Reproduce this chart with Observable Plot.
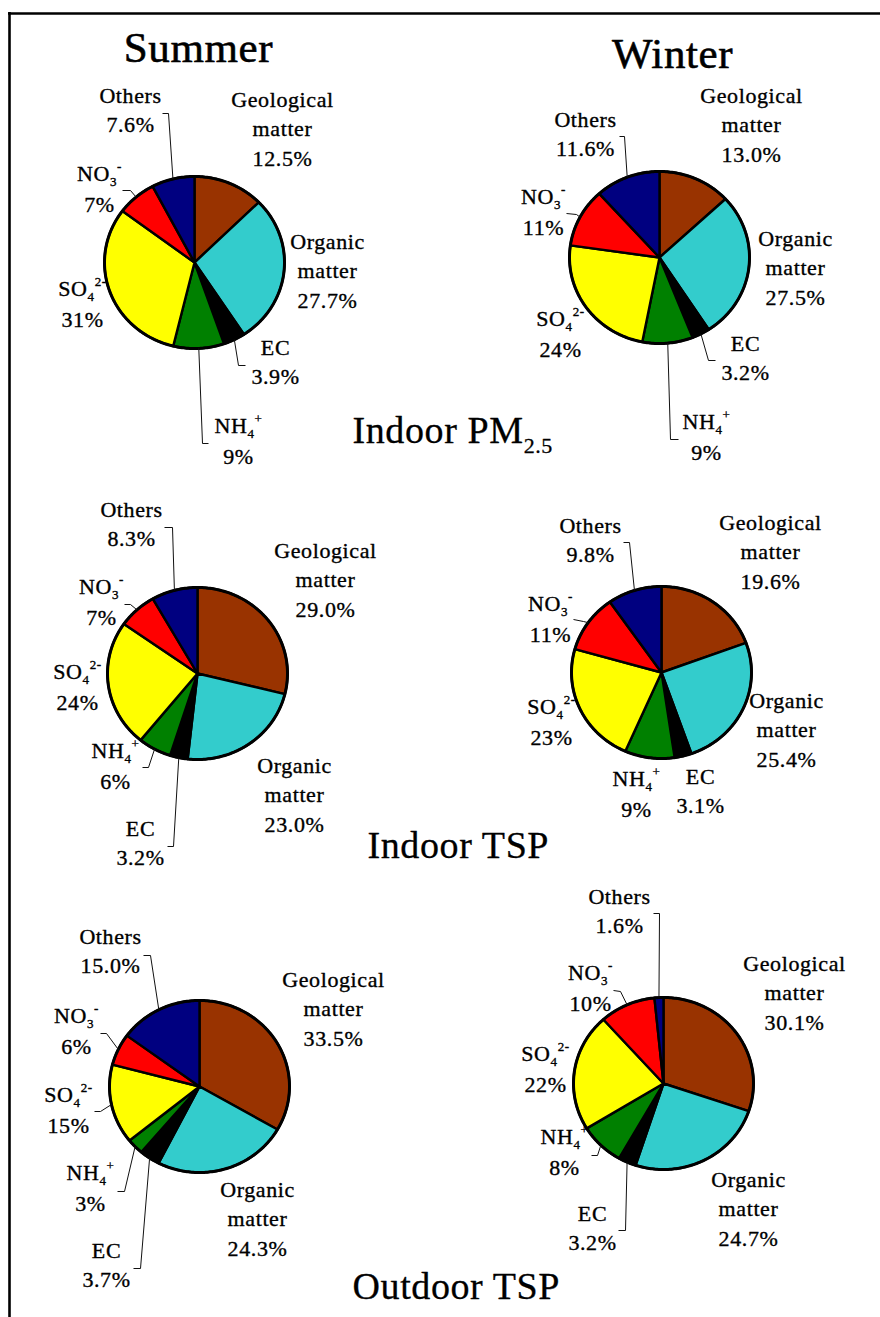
<!DOCTYPE html>
<html><head><meta charset="utf-8">
<script src="https://cdn.jsdelivr.net/npm/d3@7"></script>
<script src="https://cdn.jsdelivr.net/npm/@observablehq/plot@0.6"></script>
<style>
html,body{margin:0;padding:0;background:#fff;}
#chart svg{display:block;}
#chart text{font-family:'Liberation Serif','Times New Roman',serif;}
</style></head><body><div id="chart"></div>
<script>
// ---------- data ----------
const categories = ["Geological matter", "Organic matter", "EC", "NH4+", "SO42-", "NO3-", "Others"];
const labelNames = ["Geological\nmatter", "Organic\nmatter", "EC", "NH_4^+", "SO_4^2-", "NO_3^-", "Others"];
const decimals = [1, 1, 1, 0, 0, 0, 1];
const seasons = ["Summer", "Winter"];
const panels = ["Indoor PM_2.5", "Indoor TSP", "Outdoor TSP"];

const summerIndoorPM25 = [12.5, 27.7, 3.9, 9, 31, 7, 7.6];
const winterIndoorPM25 = [13.0, 27.5, 3.2, 9, 24, 11, 11.6];
const summerIndoorTSP = [29.0, 23.0, 3.2, 6, 24, 7, 8.3];
const winterIndoorTSP = [19.6, 25.4, 3.1, 9, 23, 11, 9.8];
const summerOutdoorTSP = [33.5, 24.3, 3.7, 3, 15, 6, 15.0];
const winterOutdoorTSP = [30.1, 24.7, 3.2, 8, 22, 10, 1.6];

const colors = ["#993300", "#33CCCC", "#000000", "#008000", "#FFFF00", "#FF0000", "#000080"];

// ---------- layout (pixel positions of pies, labels, leader elbows) ----------
const W = 880, H = 1317, RX = 90, RY = 86;
const charts = [
  {values: summerIndoorPM25, cx: 194, cy: 262,
   labels: [[282,106],[327,248],[275,354],[238,432],[82,295],[99,180],[130,102]],
   leaders: {2: [[238,365],[245,365]], 3: [[202,443],[208,443]], 5: [[130,190],[122,190]], 6: [[168,113],[162,113]]}},
  {values: winterIndoorPM25, cx: 659, cy: 257,
   labels: [[751,102],[795,245],[745,350],[706,428],[560,325],[543,203],[585,126]],
   leaders: {2: [[708,360],[715,360]], 3: [[670,439],[678,439]], 5: [[576,214],[566,213]], 6: [[624,136],[619,136]]}},
  {values: summerIndoorTSP, cx: 197, cy: 673,
   labels: [[325,557],[294,772],[140,835],[115,757],[77,678],[101,593],[131,516]],
   leaders: {2: [[173,846],[167,846]], 3: [[148,767],[142,767]], 5: [[130,604],[124,604]], 6: [[172,527],[164,527]]}},
  {values: winterIndoorTSP, cx: 661, cy: 672,
   labels: [[770,529],[786,707],[700,783],[636,785],[551,713],[550,610],[590,532]],
   leaders: {5: [[583,621],[573,619]], 6: [[629,542],[623,542]]}},
  {values: summerOutdoorTSP, cx: 199, cy: 1086,
   labels: [[333,986],[257,1196],[106,1257],[90,1179],[68,1101],[76,1022],[110,943]],
   leaders: {2: [[140,1268],[133,1268]], 3: [[124,1191],[117,1191]], 4: [[100,1111],[94,1111]], 5: [[106,1033],[100,1033]], 6: [[150,955],[143,955]]}},
  {values: winterOutdoorTSP, cx: 663, cy: 1083,
   labels: [[794,970],[748,1186],[592,1220],[564,1143],[545,1060],[590,979],[619,903]],
   leaders: {2: [[625,1230],[618,1230]], 3: [[597,1155],[591,1155]], 5: [[620,991],[613,990]], 6: [[659,913],[653,913]]}}
];
const seasonPos = [[198, 61], [672, 67]];
const panelPos = [[352, 442], [367, 857], [352, 1298]];

// ---------- geometry from data ----------
const pt = (c, a) => ({x: c.cx + RX * Math.sin(a), y: c.cy - RY * Math.cos(a)});
const slicePts = [], outlinePts = [], leaderPts = [], labelRows = [];
charts.forEach((c, ci) => {
  const total = d3.sum(c.values);
  let acc = 0;
  c.values.forEach((v, k) => {
    const a0 = acc / total * 2 * Math.PI, a1 = (acc + v) / total * 2 * Math.PI;
    acc += v;
    const key = ci + "-" + k;
    slicePts.push({key, cat: categories[k], x: c.cx, y: c.cy});
    const n = Math.max(2, Math.ceil((a1 - a0) / (Math.PI / 180)));
    for (let i = 0; i <= n; i++) slicePts.push({key, cat: categories[k], ...pt(c, a0 + (a1 - a0) * i / n)});
    const mid = (a0 + a1) / 2;
    if (c.leaders[k]) {
      leaderPts.push({id: key, ...pt(c, mid)});
      c.leaders[k].forEach(([x, y]) => leaderPts.push({id: key, x, y}));
    }
    const lines = labelNames[k].split("\n").concat([v.toFixed(decimals[k]) + "%"]);
    const [lx, ly] = c.labels[k];
    const gap = lines[0].includes("_") ? 31 : 29.5;
    lines.forEach((t, i) => labelRows.push({x: lx, y: ly + i * gap, text: t}));
  });
  for (let i = 0; i < 360; i++) outlinePts.push({id: ci, ...pt(c, i * Math.PI / 180)});
});
const seasonRows = seasons.map((s, i) => ({x: seasonPos[i][0], y: seasonPos[i][1], text: s}));
const panelRows = panels.map((s, i) => ({x: panelPos[i][0], y: panelPos[i][1], text: s}));

const FONT = "Liberation Serif";
const plot = Plot.plot({
  width: W, height: H,
  margin: 0,
  x: {domain: [0, W], range: [0, W], axis: null},
  y: {domain: [0, H], range: [0, H], axis: null},
  color: {domain: categories, range: colors},
  style: "background: white; letter-spacing: 0.6px;",
  marks: [
    Plot.ruleY([13], {x1: 8, x2: W, stroke: "black", strokeWidth: 2.6}),
    Plot.ruleX([9], {y1: 12, y2: H, stroke: "black", strokeWidth: 2.6}),
    Plot.line(slicePts, {x: "x", y: "y", z: "key", fill: "cat", stroke: "black", strokeWidth: 2.4, curve: "linear-closed", strokeLinejoin: "round"}),
    Plot.line(outlinePts, {x: "x", y: "y", z: "id", stroke: "black", strokeWidth: 3, curve: "linear-closed"}),
    Plot.line(leaderPts, {x: "x", y: "y", z: "id", stroke: "#111", strokeWidth: 1, curve: "linear", strokeLinejoin: "miter", strokeLinecap: "butt"}),
    Plot.text(labelRows, {x: "x", y: "y", text: "text", lineAnchor: "bottom", textAnchor: "middle", fontSize: 22, fontFamily: FONT, fill: "black", stroke: "black", strokeWidth: 0.35}),
    Plot.text(seasonRows, {x: "x", y: "y", text: "text", lineAnchor: "bottom", textAnchor: "middle", fontSize: 43, fontFamily: FONT, fill: "black", stroke: "black", strokeWidth: 0.6}),
    Plot.text(panelRows, {x: "x", y: "y", text: "text", lineAnchor: "bottom", textAnchor: "start", fontSize: 38, fontFamily: FONT, fill: "black", stroke: "black", strokeWidth: 0.3})
  ]
});
document.getElementById("chart").appendChild(plot);

// ---------- sub/superscripts as real tspans ----------
const NS = "http://www.w3.org/2000/svg";
plot.querySelectorAll("text").forEach(el => {
  const s = el.textContent;
  if (!/[_^]/.test(s)) return;
  const base = parseFloat(getComputedStyle(el).fontSize) || 22;
  const small = Math.round(base * 0.58);
  const parts = [...s.matchAll(/([_^]?)([^_^]+)/g)];
  el.textContent = "";
  let shift = 0;
  for (const [, p, c] of parts) {
    const target = p === "_" ? base * 0.27 : p === "^" ? -base * 0.42 : 0;
    const ts = document.createElementNS(NS, "tspan");
    ts.setAttribute("dy", (target - shift).toFixed(1));
    shift = target;
    if (p) ts.setAttribute("font-size", small);
    ts.textContent = c;
    el.appendChild(ts);
  }
});
</script></body></html>
